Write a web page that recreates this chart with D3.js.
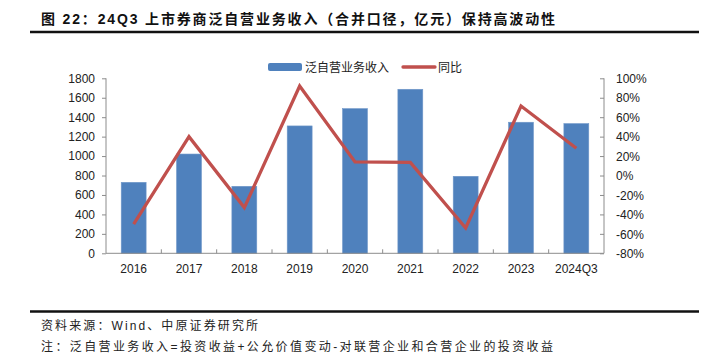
<!DOCTYPE html>
<html>
<head>
<meta charset="utf-8">
<script src="https://cdn.jsdelivr.net/npm/d3@7"></script>
<style>
  body { margin: 0; background: #fff; }
  svg { display: block; }
</style>
</head>
<body>
<div id="chart"></div>
<script>
// 数据
const categories = ['2016', '2017', '2018', '2019', '2020', '2021', '2022', '2023', '2024Q3']
const revenue = [730, 1021, 689, 1310, 1488, 1687, 792, 1348, 1334]
const yoy = [-50, 40, -33, 92, 14, 13.5, -54, 71.5, 28]
const leftTicks = [0, 200, 400, 600, 800, 1000, 1200, 1400, 1600, 1800]
const rightTicks = [-80, -60, -40, -20, 0, 20, 40, 60, 80, 100]

const width = 710
const height = 353
const margin = { left: 106, right: 106, top: 78.3, bottom: 99.7 }
const plotW = width - margin.left - margin.right
const plotH = height - margin.top - margin.bottom

const barColor = '#4f81bd'
const lineColor = '#c0504d'
const axisColor = '#8c8c8c'
const font = '"Liberation Sans", Arial, "Noto Sans CJK SC", sans-serif'
const cjkFont = '"Liberation Sans", "Noto Sans CJK SC", sans-serif'

const svg = d3.select('#chart').append('svg')
    .attr('width', width)
    .attr('height', height)

// 标题
svg.append('text')
    .attr('x', 41)
    .attr('y', 24)
    .attr('font-family', cjkFont)
    .attr('font-size', 14)
    .attr('font-weight', 'bold')
    .attr('fill', '#111')
    .attr('textLength', 514)
    .attr('lengthAdjust', 'spacing')
    .text('图 22：24Q3 上市券商泛自营业务收入（合并口径，亿元）保持高波动性')

svg.append('line')
    .attr('x1', 30).attr('x2', 699)
    .attr('y1', 32).attr('y2', 32)
    .attr('stroke', '#111').attr('stroke-width', 2.5)

svg.append('line')
    .attr('x1', 30).attr('x2', 699)
    .attr('y1', 311.5).attr('y2', 311.5)
    .attr('stroke', '#111').attr('stroke-width', 2.5)

svg.append('text')
    .attr('x', 41).attr('y', 329.5)
    .attr('font-family', cjkFont)
    .attr('font-size', 12)
    .attr('fill', '#222')
    .attr('textLength', 217)
    .attr('lengthAdjust', 'spacing')
    .text('资料来源：Wind、中原证券研究所')

svg.append('text')
    .attr('x', 41).attr('y', 351)
    .attr('font-family', cjkFont)
    .attr('font-size', 12)
    .attr('fill', '#222')
    .attr('textLength', 512)
    .attr('lengthAdjust', 'spacing')
    .text('注：泛自营业务收入=投资收益+公允价值变动-对联营企业和合营企业的投资收益')

// 比例尺
const xScale = d3.scaleBand()
    .domain(categories)
    .range([0, plotW])
    .paddingInner(0.55)
    .paddingOuter(0.275)

const yScale = d3.scaleLinear()
    .domain([0, 1800])
    .range([plotH, 0])

const y2Scale = d3.scaleLinear()
    .domain([-80, 100])
    .range([plotH, 0])

const g = svg.append('g')
    .attr('transform', 'translate(' + margin.left + ',' + margin.top + ')')

// 柱子
g.append('g')
    .selectAll('rect')
    .data(revenue)
    .enter()
    .append('rect')
    .attr('x', function (d, i) { return xScale(categories[i]) })
    .attr('y', function (d) { return yScale(d) })
    .attr('width', xScale.bandwidth())
    .attr('height', function (d) { return plotH - yScale(d) })
    .attr('fill', barColor)
    .attr('stroke', '#6f97c9')
    .attr('stroke-width', 0.6)

// 坐标轴
const leftAxis = g.append('g')
    .call(d3.axisLeft(yScale).tickValues(leftTicks).tickSize(4).tickPadding(7)
        .tickFormat(d3.format('d')))
const rightAxis = g.append('g')
    .attr('transform', 'translate(' + plotW + ',0)')
    .call(d3.axisRight(y2Scale).tickValues(rightTicks).tickSize(-4).tickPadding(12)
        .tickFormat(function (d) { return d + '%' }))

const step = xScale.step()
const bounds = d3.range(1, categories.length)
const xAxis = g.append('g')
    .attr('transform', 'translate(0,' + plotH + ')')
xAxis.append('line')
    .attr('x1', 0).attr('x2', plotW)
    .attr('stroke', axisColor)
xAxis.selectAll('.tick')
    .data(bounds)
    .enter()
    .append('line')
    .attr('x1', function (d) { return d * step })
    .attr('x2', function (d) { return d * step })
    .attr('y1', 0).attr('y2', -4)
    .attr('stroke', axisColor)
xAxis.selectAll('.lab')
    .data(categories)
    .enter()
    .append('text')
    .attr('x', function (d) { return xScale(d) + xScale.bandwidth() / 2 })
    .attr('y', 19.5)
    .attr('text-anchor', 'middle')
    .attr('font-family', font)
    .attr('font-size', 12)
    .attr('fill', '#222')
    .text(function (d) { return d })

;[leftAxis, rightAxis].forEach(function (ax) {
    ax.select('.domain').attr('stroke', axisColor)
    ax.selectAll('.tick line').attr('stroke', axisColor)
    ax.selectAll('text')
        .attr('font-family', font)
        .attr('font-size', 12)
        .attr('fill', '#222')
})
rightAxis.selectAll('text').attr('dy', '0.35em')
leftAxis.select('.domain').attr('d', 'M0,' + plotH + 'V0')
rightAxis.select('.domain').attr('d', 'M0,' + plotH + 'V0')

// 折线
const line = d3.line()
    .x(function (d, i) { return xScale(categories[i]) + xScale.bandwidth() / 2 })
    .y(function (d) { return y2Scale(d) })

g.append('path')
    .datum(yoy)
    .attr('d', line)
    .attr('fill', 'none')
    .attr('stroke', lineColor)
    .attr('stroke-width', 3.3)
    .attr('stroke-linejoin', 'miter')

// 图例
const legend = svg.append('g')
legend.append('rect')
    .attr('x', 268).attr('y', 63)
    .attr('width', 34).attr('height', 8)
    .attr('rx', 2)
    .attr('fill', barColor)
legend.append('text')
    .attr('x', 305).attr('y', 71.5)
    .attr('font-family', cjkFont)
    .attr('font-size', 12)
    .attr('fill', '#222')
    .text('泛自营业务收入')
legend.append('line')
    .attr('x1', 403).attr('x2', 435)
    .attr('y1', 67).attr('y2', 67)
    .attr('stroke', lineColor)
    .attr('stroke-width', 3.3)
    .attr('stroke-linecap', 'round')
legend.append('text')
    .attr('x', 438).attr('y', 71.5)
    .attr('font-family', cjkFont)
    .attr('font-size', 12)
    .attr('fill', '#222')
    .text('同比')
</script>
</body>
</html>
